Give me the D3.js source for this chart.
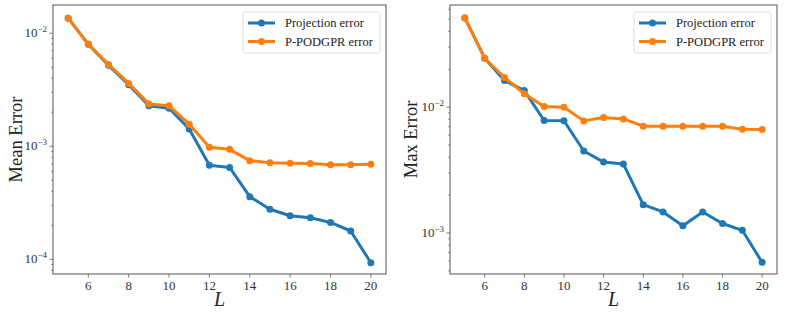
<!DOCTYPE html>
<html>
<head>
<meta charset="utf-8">
<script src="https://cdn.jsdelivr.net/npm/d3@7"></script>
<style>
  body { margin: 0; background: #fff; }
</style>
</head>
<body>
<div id="chart"></div>
<script>
// values
const Ls = [5, 6, 7, 8, 9, 10, 11, 12, 13, 14, 15, 16, 17, 18, 19, 20];

const meanProjection = [0.0136, 0.0080, 0.0052, 0.0035, 0.00228, 0.00217, 0.00142, 0.00068, 0.00065,
                        0.000358, 0.000277, 0.000243, 0.000233, 0.000212, 0.000178, 0.0000933];
const meanPodgpr     = [0.0136, 0.0080, 0.0053, 0.0036, 0.00237, 0.00228, 0.00157, 0.00098, 0.00094,
                        0.000746, 0.000716, 0.000708, 0.000703, 0.000687, 0.000685, 0.000695];

const maxProjection = [0.0512, 0.0245, 0.0163, 0.01355, 0.00783, 0.00780, 0.00448, 0.00366, 0.00353,
                       0.00168, 0.00147, 0.00114, 0.00147, 0.00119, 0.00105, 0.000584];
const maxPodgpr     = [0.0512, 0.0245, 0.0172, 0.01277, 0.0101, 0.0100, 0.00778, 0.00828, 0.00807,
                       0.00706, 0.00706, 0.00706, 0.00705, 0.00705, 0.00668, 0.00665];

const seriesNames = ['Projection error', 'P-PODGPR error'];
const seriesColors = ['#1f77b4', '#ff7f0e'];
const xTicks = [6, 8, 10, 12, 14, 16, 18, 20];

const W = 789, H = 316;
const FONT = '"Liberation Serif", "DejaVu Serif", serif';

const svg = d3.select('#chart').append('svg')
    .attr('width', W)
    .attr('height', H)
    .attr('font-family', FONT)
    .style('font-family', FONT);

function drawPanel(opts) {
    const { left, right, top, bottom, yDomain, yLabel, yLabelX, decades, series } = opts;

    const x = d3.scaleLinear().domain([4.25, 20.75]).range([left, right]);
    const y = d3.scaleLog().domain(yDomain).range([bottom, top]);

    const g = svg.append('g');

    // minor + major y ticks
    const minor = [];
    for (let e = -6; e <= 0; e++) {
        for (let m = 2; m <= 9; m++) {
            const v = m * Math.pow(10, e);
            if (v >= yDomain[0] && v <= yDomain[1]) minor.push(v);
        }
    }
    g.selectAll('.minor').data(minor).join('line')
        .attr('x1', left - 2).attr('x2', left)
        .attr('y1', d => y(d)).attr('y2', d => y(d))
        .attr('stroke', '#555').attr('stroke-width', 0.6);

    g.selectAll('.major').data(decades).join('line')
        .attr('x1', left - 3.5).attr('x2', left)
        .attr('y1', d => y(Math.pow(10, d))).attr('y2', d => y(Math.pow(10, d)))
        .attr('stroke', '#555').attr('stroke-width', 0.8);

    const ylab = g.selectAll('.ylab').data(decades).join('text')
        .attr('x', left - 6)
        .attr('y', d => y(Math.pow(10, d)) + 4)
        .attr('text-anchor', 'end')
        .attr('fill', '#333')
        .style('font-family', FONT)
        .style('font-size', '13px');
    ylab.append('tspan').text('10');
    ylab.append('tspan').attr('dy', -5).style('font-size', '9px').text(d => '\u2212' + (-d));

    // x ticks
    g.selectAll('.xt').data(xTicks).join('line')
        .attr('x1', d => x(d)).attr('x2', d => x(d))
        .attr('y1', bottom).attr('y2', bottom + 3.5)
        .attr('stroke', '#555').attr('stroke-width', 0.8);

    g.selectAll('.xl').data(xTicks).join('text')
        .attr('x', d => x(d))
        .attr('y', bottom + 16)
        .attr('text-anchor', 'middle')
        .attr('fill', '#333')
        .style('font-family', FONT)
        .style('font-size', '13px')
        .text(d => d);

    // frame
    g.append('rect')
        .attr('x', left).attr('y', top)
        .attr('width', right - left).attr('height', bottom - top)
        .attr('fill', 'none')
        .attr('stroke', '#555')
        .attr('stroke-width', 1);

    // axis labels
    g.append('text')
        .attr('x', (left + right) / 2)
        .attr('y', bottom + 32)
        .attr('text-anchor', 'middle')
        .style('font-family', FONT)
        .style('font-size', '20px')
        .style('font-style', 'italic')
        .attr('fill', '#222')
        .text('L');

    g.append('text')
        .attr('transform', `translate(${yLabelX}, ${(top + bottom) / 2}) rotate(-90)`)
        .attr('text-anchor', 'middle')
        .style('font-family', FONT)
        .style('font-size', '18.5px')
        .attr('fill', '#222')
        .text(yLabel);

    // lines
    const line = d3.line()
        .x((d, i) => x(Ls[i]))
        .y(d => y(d));

    series.forEach((vals, si) => {
        g.append('path')
            .datum(vals)
            .attr('d', line)
            .attr('fill', 'none')
            .attr('stroke', seriesColors[si])
            .attr('stroke-width', 3)
            .attr('stroke-linejoin', 'round');

        g.selectAll(`.dot${si}`).data(vals).join('circle')
            .attr('cx', (d, i) => x(Ls[i]))
            .attr('cy', d => y(d))
            .attr('r', 3.5)
            .attr('fill', seriesColors[si]);
    });

    // legend
    const lx = right - 143, ly = top + 7;
    const leg = g.append('g').attr('transform', `translate(${lx}, ${ly})`);
    leg.append('rect')
        .attr('width', 137).attr('height', 41)
        .attr('rx', 2.5)
        .attr('fill', 'white').attr('fill-opacity', 0.8)
        .attr('stroke', '#d6d6d6').attr('stroke-width', 0.8);

    seriesNames.forEach((name, i) => {
        const cy = 11 + i * 18.5;
        leg.append('line')
            .attr('x1', 5).attr('x2', 32)
            .attr('y1', cy).attr('y2', cy)
            .attr('stroke', seriesColors[i]).attr('stroke-width', 3);
        leg.append('circle')
            .attr('cx', 18.5).attr('cy', cy).attr('r', 3.5)
            .attr('fill', seriesColors[i]);
        leg.append('text')
            .attr('x', 42).attr('y', cy + 4.3)
            .attr('fill', '#222')
            .style('font-family', FONT)
            .style('font-size', '12.5px')
            .text(name);
    });
}

drawPanel({
    left: 53, right: 386, top: 5, bottom: 274,
    yDomain: [Math.pow(10, -4.13), Math.pow(10, -1.75)],
    decades: [-2, -3, -4],
    yLabel: 'Mean Error', yLabelX: 21.5,
    series: [meanProjection, meanPodgpr]
});

drawPanel({
    left: 450, right: 777, top: 5, bottom: 274,
    yDomain: [Math.pow(10, -3.326), Math.pow(10, -1.188)],
    decades: [-2, -3],
    yLabel: 'Max Error', yLabelX: 417,
    series: [maxProjection, maxPodgpr]
});
</script>
</body>
</html>
